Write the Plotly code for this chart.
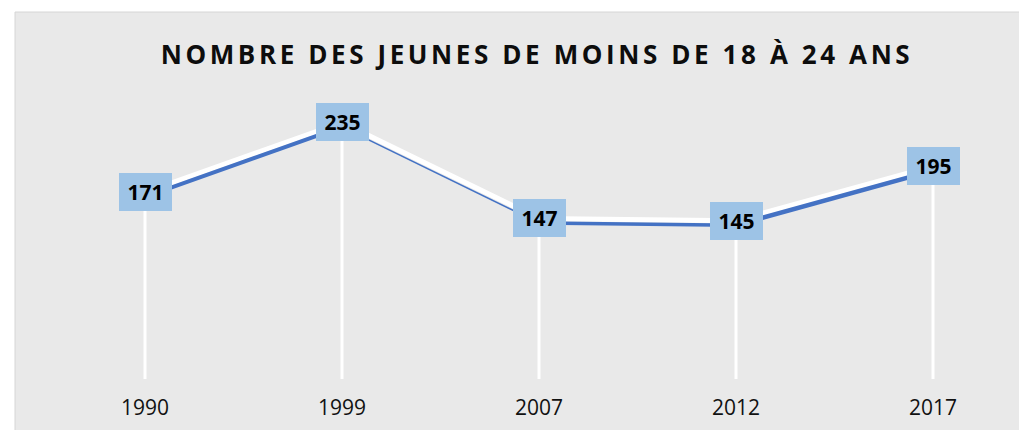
import plotly.graph_objects as go

# ---- data ----
years = ["1990", "1999", "2007", "2012", "2017"]
values = [171, 235, 147, 145, 195]
title_text = "NOMBRE DES JEUNES DE MOINS DE 18 À 24 ANS"

# ---- geometry / style ----
W, H = 1027, 430
OFF = 8  # page body margin: figure is drawn 8px right/down of the window origin
M_L, M_R, M_T, M_B = 46 - OFF, 0, 106 - OFF, H - (379 - OFF)
Y_MAX = 250
plot_h = H - M_T - M_B
plot_w = W - M_L - M_R
px_per_unit = plot_h / Y_MAX
blue_off = 4.5 / px_per_unit   # blue line sits slightly below its white highlight

BLUE = "#4472C4"
BOX = "#9DC3E6"
BG = "#E9E9E9"
blue_widths = [4, 1.6, 3.5, 4.5]

xs = list(range(len(years)))
fig = go.Figure()

# drop lines
dx, dy = [], []
for x, v in zip(xs, values):
    dx += [x, x, None]
    dy += [0, v, None]
fig.add_trace(go.Scatter(x=dx, y=dy, mode="lines", line=dict(color="white", width=3),
                         hoverinfo="skip", showlegend=False))

# white highlight line
fig.add_trace(go.Scatter(x=xs, y=values, mode="lines", line=dict(color="white", width=5),
                         hoverinfo="skip", showlegend=False))

# blue segments
for i in range(len(xs) - 1):
    fig.add_trace(go.Scatter(x=xs[i:i + 2], y=[v - blue_off for v in values[i:i + 2]],
                             mode="lines", line=dict(color=BLUE, width=blue_widths[i]),
                             hoverinfo="skip", showlegend=False))

# data labels
for x, v in zip(xs, values):
    fig.add_annotation(x=x, y=v, text=f"<b>{v}</b>", showarrow=False,
                       xanchor="center", yanchor="middle",
                       bgcolor=BOX, borderwidth=0, borderpad=2, width=49, height=34,
                       font=dict(family="Open Sans", size=21, color="black"))

# chart area background
x0p = (15 - OFF - M_L) / plot_w
x1p = (W + 5 - M_L) / plot_w
y1p = (H - M_B - (12 - OFF)) / plot_h
y0p = (H - M_B - (H + 5)) / plot_h
fig.add_shape(type="rect", xref="paper", yref="paper", x0=x0p, x1=x1p, y0=y0p, y1=y1p,
              fillcolor=BG, line=dict(color="#D6D6D6", width=1), layer="below")

step = 197.0
x_start = -(145 - OFF - M_L) / step
x_end = x_start + plot_w / step
fig.update_layout(
    width=W, height=H,
    margin=dict(l=M_L, r=M_R, t=M_T, b=M_B, autoexpand=False),
    paper_bgcolor="white", plot_bgcolor="rgba(0,0,0,0)",
    title=dict(text=f'<span style="letter-spacing:3.6px">{title_text}</span>',
               xref="container", yref="container", x=(537 - OFF) / W, y=1 - (55 - OFF) / H,
               xanchor="center", yanchor="middle",
               font=dict(family="Open Sans", size=26, color="#0D0D0D", weight="bold")),
    xaxis=dict(range=[x_start, x_end], tickvals=xs, ticktext=years,
               showgrid=False, zeroline=False, showline=False, ticks="",
               ticklabelstandoff=14,
               tickfont=dict(family="Open Sans", size=21, color="#111111")),
    yaxis=dict(range=[0, Y_MAX], showgrid=False, zeroline=False, showline=False,
               showticklabels=False, ticks=""),
    showlegend=False,
)

fig.write_html("out.html")
